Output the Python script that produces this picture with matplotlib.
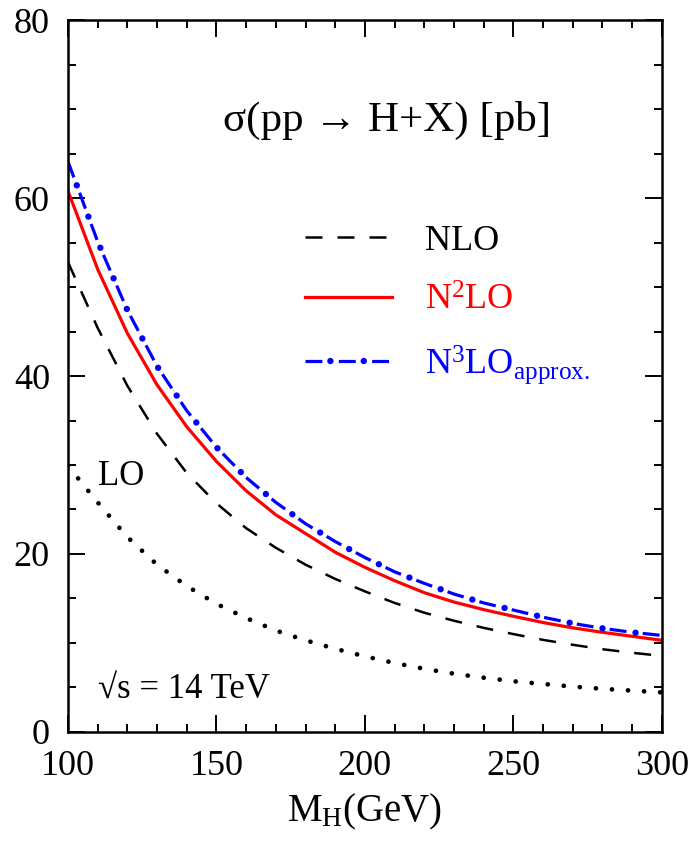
import numpy as np
import matplotlib
matplotlib.use('Agg')
import matplotlib.pyplot as plt
from matplotlib.ticker import MultipleLocator

plt.rcParams['font.family'] = ['Liberation Serif', 'DejaVu Serif']
plt.rcParams['mathtext.fontset'] = 'custom'
plt.rcParams['mathtext.rm'] = 'Liberation Serif'
plt.rcParams['mathtext.it'] = 'Liberation Serif:italic'

# Higgs mass (GeV)
mh = [100, 110, 120, 130, 140, 150, 160, 170, 180, 190, 200,
      210, 220, 230, 240, 250, 260, 270, 280, 290, 300]
# cross sections in pb
sig_lo = [29.9, 25.8, 21.9, 18.8, 16.4, 14.4, 12.8, 11.4, 10.3, 9.35, 8.5,
          7.75, 7.1, 6.55, 6.1, 5.7, 5.4, 5.1, 4.85, 4.65, 4.45]
sig_nlo = [52.8, 45.4, 38.9, 33.5, 29.1, 25.7, 22.9, 20.7, 18.8, 17.2, 15.8,
           14.5, 13.4, 12.5, 11.7, 11.0, 10.35, 9.8, 9.3, 8.9, 8.55]
sig_nnlo = [60.8, 52.0, 44.8, 39.0, 34.3, 30.4, 27.1, 24.4, 22.3, 20.2, 18.5,
            17.0, 15.65, 14.6, 13.75, 13.0, 12.3, 11.7, 11.2, 10.75, 10.3]
sig_n3lo = [64.1, 55.1, 47.4, 41.1, 36.1, 32.0, 28.6, 25.8, 23.4, 21.4, 19.6,
            18.0, 16.7, 15.5, 14.5, 13.7, 12.9, 12.2, 11.65, 11.2, 10.85]

fig = plt.figure(figsize=(6.88, 8.48), dpi=100)
ax = fig.add_axes([0.0988, 0.1368, 0.8632, 0.8396])

# LO: round dots
ax.plot(mh, sig_lo, color='black', lw=3.4, dashes=(0.01, 3.4),
        dash_capstyle='round')
ax.plot(mh, sig_nlo, color='black', lw=1.8, dashes=(6.8, 6.0), label='NLO')
ax.plot(mh, sig_nnlo, color='red', lw=2.3, label=r'N$^{2}$LO')
# N3LO: dashes plus bigger dots in the gaps, same period (24 pt)
ax.plot(mh, sig_n3lo, color='blue', lw=2.3, dashes=(5.3, 5.13))
ax.plot(mh, sig_n3lo, color='blue', lw=4.6,
        linestyle=(1.25, (0.01, 5.21)), dash_capstyle='round')
# legend proxy for N3LO
h3a, = ax.plot([], [], color='blue', lw=2.3, dashes=(5.3, 5.13))
h3b, = ax.plot([], [], color='blue', lw=4.6,
               linestyle=(1.25, (0.01, 5.21)), dash_capstyle='round')

ax.set_xlim(100, 300)
ax.set_ylim(0, 80)
ax.xaxis.set_major_locator(MultipleLocator(50))
ax.xaxis.set_minor_locator(MultipleLocator(10))
ax.yaxis.set_major_locator(MultipleLocator(20))
ax.yaxis.set_minor_locator(MultipleLocator(5))
ax.tick_params(which='both', direction='in', top=True, right=True,
               labelsize=26, width=1.4)
ax.tick_params(which='major', length=12, pad=13)
ax.tick_params(which='minor', length=6)
for s in ax.spines.values():
    s.set_linewidth(1.8)

ax.set_xlabel(r'M$_{\mathrm{H}}$(GeV)', fontsize=28, labelpad=6)

ax.text(0.537, 0.844, 'σ(pp → H+X) [pb]', transform=ax.transAxes,
        fontsize=31, ha='center', va='baseline')
ax.text(0.05, 0.347, 'LO', transform=ax.transAxes, fontsize=25,
        va='baseline')
ax.text(0.05, 0.048, '√s = 14 TeV', transform=ax.transAxes, fontsize=25,
        va='baseline')

handles, labels = ax.get_legend_handles_labels()
handles.append((h3a, h3b))
labels.append(r'N$^{3}$LO$_{\mathrm{approx.}}$')
leg = ax.legend(handles, labels, loc='upper left',
                bbox_to_anchor=(0.345, 0.758), frameon=False,
                fontsize=26, handlelength=2.4, handletextpad=0.9,
                labelspacing=0.72)
for t, c in zip(leg.get_texts(), ['black', 'red', 'blue']):
    t.set_color(c)

fig.savefig('out.png', dpi=100)
